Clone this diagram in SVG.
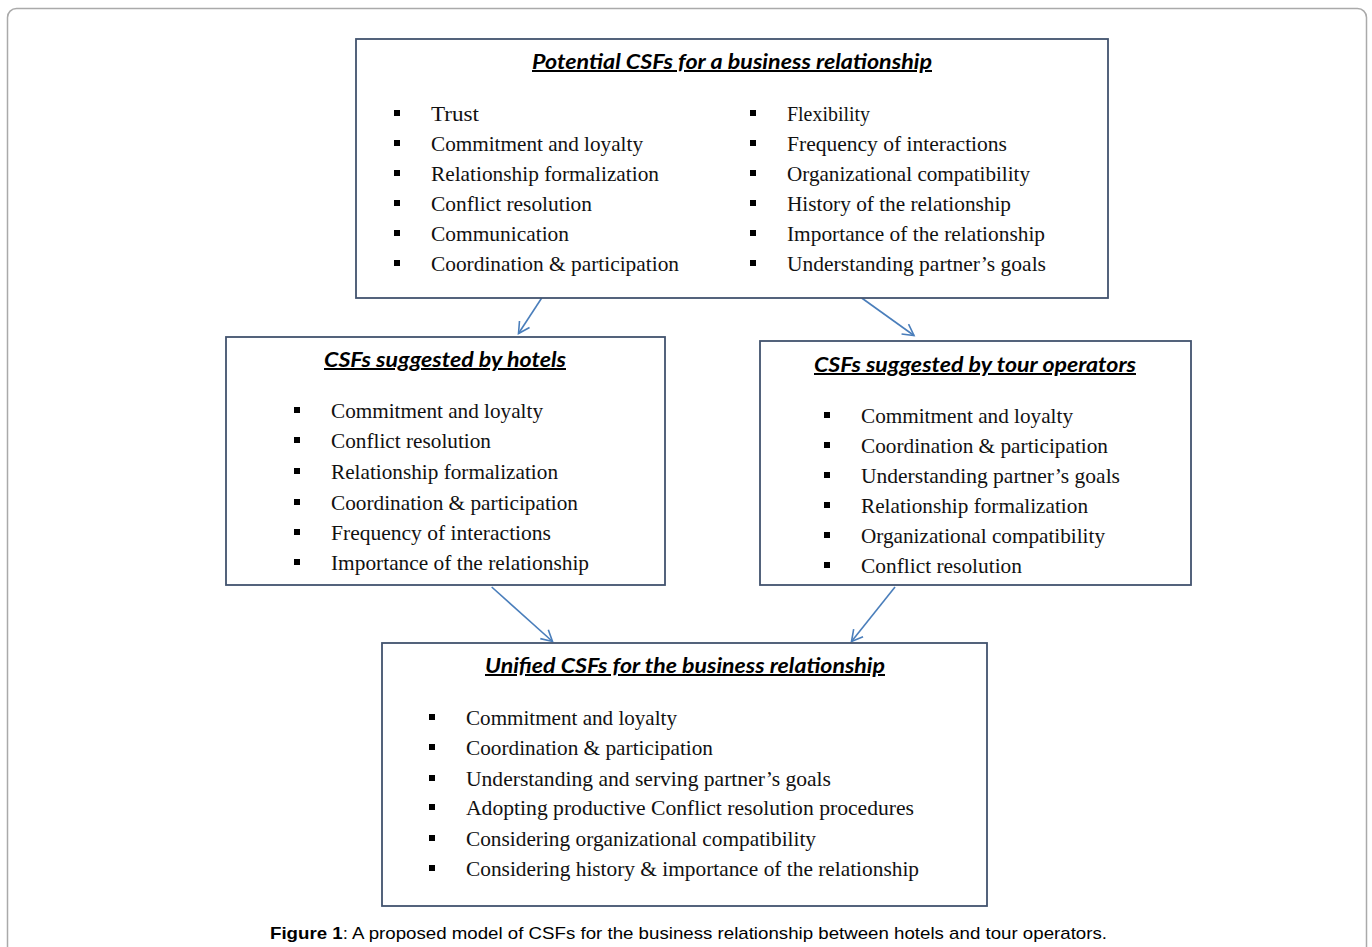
<svg xmlns="http://www.w3.org/2000/svg" width="1372" height="947" viewBox="0 0 1372 947">
<defs>
<style>
.frame{fill:#fff;stroke:#aaaaaa;stroke-width:1.5}
.box{fill:#fff;stroke:#42536e;stroke-width:1.8}
.title{font-family:Lato,"Liberation Sans",sans-serif;font-weight:bold;font-style:italic;font-size:20px;fill:#000;text-decoration:underline}
.item{font-family:"Liberation Serif","Times New Roman",serif;font-size:21px;fill:#111}
.bul{fill:#000}
.conn{stroke:#4a7ebb;stroke-width:1.6;fill:none}
.cap{font-family:"Liberation Sans",Arial,sans-serif;font-size:17px;fill:#000}
</style>
<marker id="ah" markerUnits="userSpaceOnUse" markerWidth="16" markerHeight="16" refX="12" refY="7" orient="auto">
<path d="M1,1 L12,7 L1,13" fill="none" stroke="#4a7ebb" stroke-width="1.6"/>
</marker>
</defs>
<rect width="1372" height="947" fill="#fff"/>
<rect class="frame" x="7.5" y="8.5" width="1359" height="970" rx="9"/>

<g id="connectors">
<line class="conn" x1="541.7" y1="298" x2="518.5" y2="333.5" marker-end="url(#ah)"/>
<line class="conn" x1="861.7" y1="298" x2="914" y2="335.5" marker-end="url(#ah)"/>
<line class="conn" x1="491.7" y1="587" x2="552.5" y2="641.5" marker-end="url(#ah)"/>
<line class="conn" x1="895" y1="587" x2="851.5" y2="641.5" marker-end="url(#ah)"/>
</g>

<g id="node-potential">
<rect class="box" x="356" y="39" width="752" height="259"/>
<text class="title" x="532" y="69" textLength="400" lengthAdjust="spacingAndGlyphs">Potential CSFs for a business relationship</text>
<rect class="bul" x="394" y="110" width="6" height="6"/>
<rect class="bul" x="394" y="140" width="6" height="6"/>
<rect class="bul" x="394" y="170" width="6" height="6"/>
<rect class="bul" x="394" y="200" width="6" height="6"/>
<rect class="bul" x="394" y="230" width="6" height="6"/>
<rect class="bul" x="394" y="260" width="6" height="6"/>
<text class="item" x="431" y="121" textLength="48" lengthAdjust="spacingAndGlyphs">Trust</text>
<text class="item" x="431" y="151" textLength="212" lengthAdjust="spacingAndGlyphs">Commitment and loyalty</text>
<text class="item" x="431" y="181" textLength="228" lengthAdjust="spacingAndGlyphs">Relationship  formalization</text>
<text class="item" x="431" y="211" textLength="161" lengthAdjust="spacingAndGlyphs">Conflict resolution</text>
<text class="item" x="431" y="241" textLength="138" lengthAdjust="spacingAndGlyphs">Communication</text>
<text class="item" x="431" y="271" textLength="248" lengthAdjust="spacingAndGlyphs">Coordination &amp; participation</text>
<rect class="bul" x="750" y="110" width="6" height="6"/>
<rect class="bul" x="750" y="140" width="6" height="6"/>
<rect class="bul" x="750" y="170" width="6" height="6"/>
<rect class="bul" x="750" y="200" width="6" height="6"/>
<rect class="bul" x="750" y="230" width="6" height="6"/>
<rect class="bul" x="750" y="260" width="6" height="6"/>
<text class="item" x="787" y="121" textLength="83" lengthAdjust="spacingAndGlyphs">Flexibility</text>
<text class="item" x="787" y="151" textLength="220" lengthAdjust="spacingAndGlyphs">Frequency of interactions</text>
<text class="item" x="787" y="181" textLength="243" lengthAdjust="spacingAndGlyphs">Organizational  compatibility</text>
<text class="item" x="787" y="211" textLength="224" lengthAdjust="spacingAndGlyphs">History of the relationship</text>
<text class="item" x="787" y="241" textLength="258" lengthAdjust="spacingAndGlyphs">Importance of the relationship</text>
<text class="item" x="787" y="271" textLength="259" lengthAdjust="spacingAndGlyphs">Understanding partner’s goals</text>
</g>

<g id="node-hotels">
<rect class="box" x="226" y="337" width="439" height="248"/>
<text class="title" x="324" y="367" textLength="242" lengthAdjust="spacingAndGlyphs">CSFs suggested  by hotels</text>
<rect class="bul" x="294" y="407" width="6" height="6"/>
<rect class="bul" x="294" y="437" width="6" height="6"/>
<rect class="bul" x="294" y="468" width="6" height="6"/>
<rect class="bul" x="294" y="499" width="6" height="6"/>
<rect class="bul" x="294" y="529" width="6" height="6"/>
<rect class="bul" x="294" y="559" width="6" height="6"/>
<text class="item" x="331" y="418" textLength="212" lengthAdjust="spacingAndGlyphs">Commitment and loyalty</text>
<text class="item" x="331" y="448" textLength="160" lengthAdjust="spacingAndGlyphs">Conflict resolution</text>
<text class="item" x="331" y="479" textLength="227" lengthAdjust="spacingAndGlyphs">Relationship  formalization</text>
<text class="item" x="331" y="510" textLength="247" lengthAdjust="spacingAndGlyphs">Coordination  &amp; participation</text>
<text class="item" x="331" y="540" textLength="220" lengthAdjust="spacingAndGlyphs">Frequency of interactions</text>
<text class="item" x="331" y="570" textLength="258" lengthAdjust="spacingAndGlyphs">Importance of the relationship</text>
</g>

<g id="node-tour">
<rect class="box" x="760" y="341" width="431" height="244"/>
<text class="title" x="814" y="372" textLength="322" lengthAdjust="spacingAndGlyphs">CSFs suggested  by tour operators</text>
<rect class="bul" x="824" y="412" width="6" height="6"/>
<rect class="bul" x="824" y="442" width="6" height="6"/>
<rect class="bul" x="824" y="472" width="6" height="6"/>
<rect class="bul" x="824" y="502" width="6" height="6"/>
<rect class="bul" x="824" y="532" width="6" height="6"/>
<rect class="bul" x="824" y="562" width="6" height="6"/>
<text class="item" x="861" y="423" textLength="212" lengthAdjust="spacingAndGlyphs">Commitment and loyalty</text>
<text class="item" x="861" y="453" textLength="247" lengthAdjust="spacingAndGlyphs">Coordination  &amp; participation</text>
<text class="item" x="861" y="483" textLength="259" lengthAdjust="spacingAndGlyphs">Understanding partner’s goals</text>
<text class="item" x="861" y="513" textLength="227" lengthAdjust="spacingAndGlyphs">Relationship  formalization</text>
<text class="item" x="861" y="543" textLength="244" lengthAdjust="spacingAndGlyphs">Organizational  compatibility</text>
<text class="item" x="861" y="573" textLength="161" lengthAdjust="spacingAndGlyphs">Conflict resolution</text>
</g>

<g id="node-unified">
<rect class="box" x="382" y="643" width="605" height="263"/>
<text class="title" x="485" y="673" textLength="400" lengthAdjust="spacingAndGlyphs">Unified CSFs for the business relationship</text>
<rect class="bul" x="429" y="714" width="6" height="6"/>
<rect class="bul" x="429" y="744" width="6" height="6"/>
<rect class="bul" x="429" y="775" width="6" height="6"/>
<rect class="bul" x="429" y="804" width="6" height="6"/>
<rect class="bul" x="429" y="835" width="6" height="6"/>
<rect class="bul" x="429" y="865" width="6" height="6"/>
<text class="item" x="466" y="725" textLength="211" lengthAdjust="spacingAndGlyphs">Commitment and loyalty</text>
<text class="item" x="466" y="755" textLength="247" lengthAdjust="spacingAndGlyphs">Coordination  &amp; participation</text>
<text class="item" x="466" y="786" textLength="365" lengthAdjust="spacingAndGlyphs">Understanding and serving partner’s goals</text>
<text class="item" x="466" y="815" textLength="448" lengthAdjust="spacingAndGlyphs">Adopting productive Conflict resolution procedures</text>
<text class="item" x="466" y="846" textLength="350" lengthAdjust="spacingAndGlyphs">Considering organizational  compatibility</text>
<text class="item" x="466" y="876" textLength="453" lengthAdjust="spacingAndGlyphs">Considering history &amp; importance of the relationship</text>
</g>

<text class="cap" x="270" y="939" textLength="837" lengthAdjust="spacingAndGlyphs"><tspan font-weight="bold">Figure 1</tspan>: A proposed model of CSFs for the business relationship between hotels and tour operators.</text>
</svg>
